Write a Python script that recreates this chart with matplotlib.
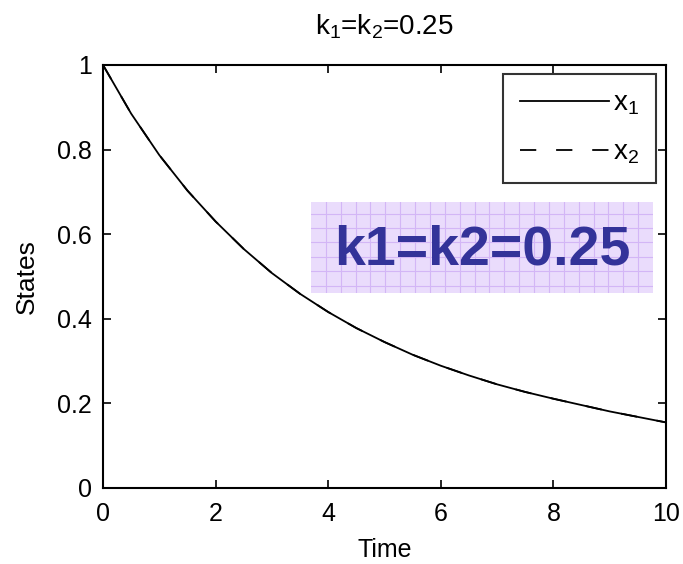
import numpy as np
import matplotlib
matplotlib.use("Agg")
import matplotlib.pyplot as plt

plt.rcParams['font.family'] = ['Liberation Sans', 'DejaVu Sans']
plt.rcParams['mathtext.default'] = 'regular'

# values
time = [0, 0.5, 1, 1.5, 2, 2.5, 3, 3.5, 4, 4.5, 5, 5.5, 6, 6.5, 7, 7.5, 8, 8.5, 9, 9.5, 10]
x1 = [1.0, 0.885, 0.787, 0.703, 0.630, 0.565, 0.508, 0.459, 0.416, 0.378, 0.345,
      0.315, 0.289, 0.266, 0.245, 0.227, 0.211, 0.196, 0.181, 0.168, 0.155]
x2 = list(x1)
xticks = [0, 2, 4, 6, 8, 10]
yticks = [0, 0.2, 0.4, 0.6, 0.8, 1]
ytick_labels = ['0', '0.2', '0.4', '0.6', '0.8', '1']

fig = plt.figure(figsize=(6.83, 5.64), dpi=100)
ax = fig.add_axes([0.1508, 0.1348, 0.8243, 0.75])

ax.plot(time, x1, color='black', linewidth=1.3, linestyle='-', label='$x_1$')
ax.plot(time, x2, color='black', linewidth=1.3, linestyle=(0, (9, 11)), label='$x_2$')

ax.set_xlim(0, 10)
ax.set_ylim(0, 1)
ax.set_xticks(xticks)
ax.set_yticks(yticks)
ax.set_yticklabels(ytick_labels)
ax.tick_params(direction='in', top=True, right=True, length=6, width=1.2, labelsize=18)
ax.tick_params(axis='x', pad=10)
ax.tick_params(axis='y', pad=8)
for s in ax.spines.values():
    s.set_linewidth(1.5)

ax.set_xlabel('Time', fontsize=18, labelpad=9)
ax.set_ylabel('States', fontsize=19, labelpad=13)
ax.set_title('$k_1$=$k_2$=0.25', fontsize=20, pad=22)

leg = ax.legend(loc='upper right', bbox_to_anchor=(0.982, 0.978), fontsize=20, frameon=True,
                fancybox=False, edgecolor='black', handlelength=3.2, handletextpad=0.15,
                borderpad=0.6, labelspacing=0.8, borderaxespad=0)
leg.get_frame().set_linewidth(1.5)

# the pasted label box
box = fig.add_axes([311 / 683, 1 - 293 / 564, 342 / 683, 91 / 564])
box.set_facecolor('#eadcfc')
box.set_xlim(0, 23)
box.set_ylim(0, 6.3)
box.set_xticks(np.arange(1, 23))
box.set_yticks(np.arange(0.5, 6.3, 1))
box.grid(True, color='#d3b6f6', linewidth=0.8)
box.tick_params(length=0, labelbottom=False, labelleft=False)
for s in box.spines.values():
    s.set_visible(False)
box.text(0.5, 0.47, 'k1=k2=0.25', transform=box.transAxes, ha='center', va='center',
         fontsize=40, fontweight='bold', color='#333399')

fig.savefig('out.png', dpi=100)
